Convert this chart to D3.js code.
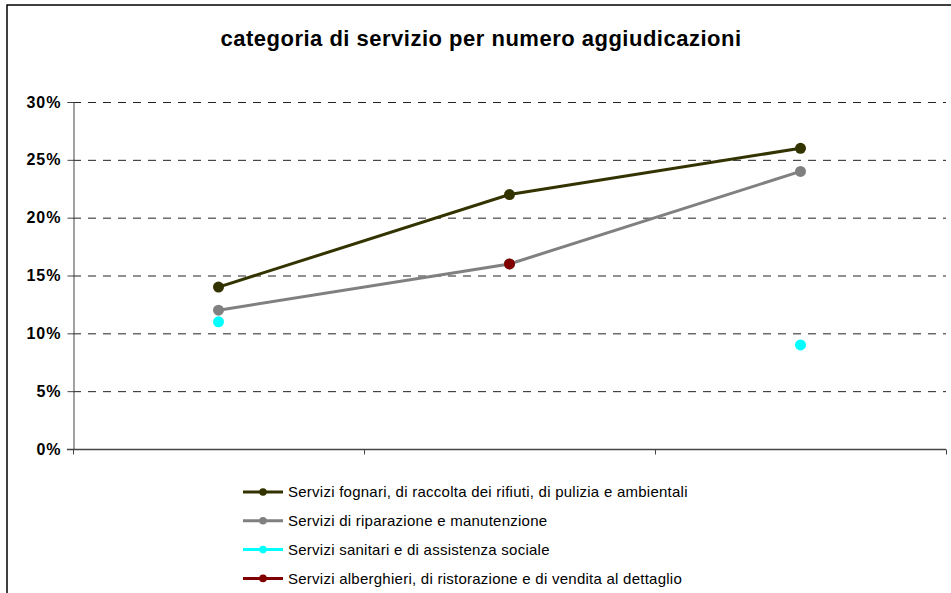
<!DOCTYPE html>
<html>
<head>
<meta charset="utf-8">
<script src="https://cdn.jsdelivr.net/npm/d3@7/dist/d3.min.js"></script>
<style>
  html, body { margin: 0; padding: 0; background: #fff; }
  svg { display: block; font-family: "Liberation Sans", Arial, sans-serif; }
</style>
</head>
<body>
<svg id="chart" width="951" height="593"></svg>
<script>
// Categories along the x axis (unlabelled positions)
const categories = ["A", "B", "C"];

// Share of awards per service category (percent); null = no value
const seriesNames = [
  "Servizi fognari, di raccolta dei rifiuti, di pulizia e ambientali",
  "Servizi di riparazione e manutenzione",
  "Servizi sanitari e di assistenza sociale",
  "Servizi alberghieri, di ristorazione e di vendita al dettaglio"
];
const fognari     = [14, 22, 26];
const riparazione = [12, 16, 24];
const sanitari    = [11, null, 9];
const alberghieri = [null, 16, null];

const seriesColors = ["#333300", "#808080", "#00FFFF", "#800000"];
const yTicks = [0, 5, 10, 15, 20, 25, 30];

const series = [fognari, riparazione, sanitari, alberghieri].map((vals, i) => ({
  name: seriesNames[i],
  color: seriesColors[i],
  values: vals
}));

const svg = d3.select("#chart");

// Outer frame (top and left edges visible)
svg.append("path")
  .attr("d", "M7,593 L7,5 L951,5")
  .attr("fill", "none")
  .attr("stroke", "#000")
  .attr("stroke-width", 1.5);

// Title
svg.append("text")
  .attr("x", 481)
  .attr("y", 46)
  .attr("text-anchor", "middle")
  .attr("font-size", 22)
  .attr("font-weight", "bold")
  .attr("letter-spacing", 0.5)
  .text("categoria di servizio per numero aggiudicazioni");

const plot = { left: 73, right: 946, top: 102, bottom: 449 };

const x = d3.scaleBand()
  .domain(categories)
  .range([plot.left, plot.right]);

const y = d3.scaleLinear()
  .domain([0, 30])
  .range([plot.bottom, plot.top]);

// Dashed horizontal gridlines
svg.append("g")
  .selectAll("line")
  .data(yTicks.filter(t => t > 0))
  .join("line")
  .attr("x1", plot.left)
  .attr("x2", plot.right)
  .attr("y1", d => y(d) + 0.5)
  .attr("y2", d => y(d) + 0.5)
  .attr("stroke", "#222")
  .attr("stroke-width", 1)
  .attr("stroke-dasharray", "8,7");

// Y axis
const yAxis = svg.append("g")
  .attr("transform", `translate(${plot.left + 0.5},0)`)
  .call(d3.axisLeft(y).tickValues(yTicks).tickFormat(d => d + "%").tickSize(6).tickPadding(6));
yAxis.select(".domain").attr("stroke", "#444");
yAxis.selectAll(".tick line").attr("stroke", "#444");
yAxis.selectAll(".tick text")
  .attr("font-size", 16)
  .attr("font-weight", "bold")
  .attr("letter-spacing", 1)
  .attr("font-family", "'Liberation Sans', Arial, sans-serif")
  .attr("fill", "#000");

// X axis: tick marks at category boundaries
const xAxisG = svg.append("g")
  .attr("transform", `translate(0,${plot.bottom + 0.5})`);
xAxisG.append("line")
  .attr("x1", plot.left - 6)
  .attr("x2", plot.right)
  .attr("stroke", "#444")
  .attr("stroke-width", 1.5);
const boundaries = categories.map(c => x(c)).concat([plot.right]);
xAxisG.selectAll("line.tk")
  .data(boundaries)
  .join("line")
  .attr("class", "tk")
  .attr("x1", d => Math.round(d) + 0.5)
  .attr("x2", d => Math.round(d) + 0.5)
  .attr("y1", 0)
  .attr("y2", 5)
  .attr("stroke", "#444");

const cx = c => x(c) + x.bandwidth() / 2;

// Lines
const line = d3.line()
  .defined(d => d.v !== null)
  .x(d => cx(d.c))
  .y(d => y(d.v));

series.forEach(s => {
  const pts = categories.map((c, i) => ({ c, v: s.values[i] }));
  svg.append("path")
    .datum(pts)
    .attr("d", line)
    .attr("fill", "none")
    .attr("stroke", s.color)
    .attr("stroke-width", 3);
});

// Markers
series.forEach(s => {
  const pts = categories.map((c, i) => ({ c, v: s.values[i] })).filter(d => d.v !== null);
  svg.append("g")
    .selectAll("circle")
    .data(pts)
    .join("circle")
    .attr("cx", d => cx(d.c))
    .attr("cy", d => y(d.v))
    .attr("r", 5.5)
    .attr("fill", s.color);
});

// Legend
const legend = svg.append("g").attr("transform", "translate(243,492)");
series.forEach((s, i) => {
  const g = legend.append("g").attr("transform", `translate(0,${i * 28.8})`);
  g.append("line")
    .attr("x1", 0).attr("x2", 40)
    .attr("stroke", s.color)
    .attr("stroke-width", 3);
  g.append("circle")
    .attr("cx", 20).attr("r", 3.8)
    .attr("fill", s.color);
  g.append("text")
    .attr("x", 45)
    .attr("y", 0)
    .attr("dy", "0.35em")
    .attr("font-size", 15)
    .attr("letter-spacing", 0.25)
    .attr("fill", "#000")
    .text(s.name);
});
</script>
</body>
</html>
